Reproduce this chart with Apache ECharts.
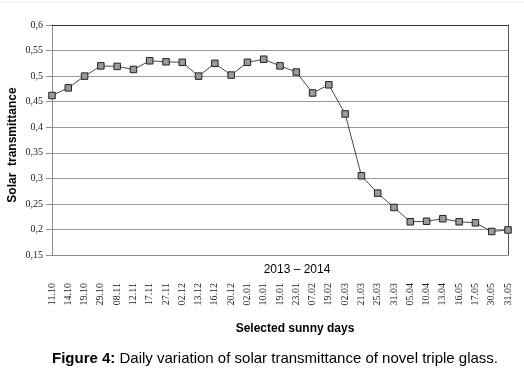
<!DOCTYPE html>
<html><head><meta charset="utf-8">
<script src="https://cdn.jsdelivr.net/npm/echarts@6/dist/echarts.min.js"></script>
<style>html,body{margin:0;padding:0;background:#fff}#c{width:524px;height:369px}</style>
</head><body><div id="c"></div>
<script>
const categories = ["11.10","14.10","19.10","29.10","08.11","12.11","17.11","27.11","02.12","13.12","16.12","20.12","02.01","10.01","19.01","23.01","07.02","19.02","02.03","21.03","25.03","31.03","05.04","10.04","13.04","16.05","17.05","30.05","31.05"];
const transmittance = [0.462,0.477,0.500,0.520,0.519,0.513,0.530,0.528,0.527,0.500,0.525,0.502,0.527,0.533,0.520,0.508,0.467,0.483,0.426,0.305,0.271,0.243,0.215,0.216,0.221,0.215,0.213,0.196,0.199];
const yMin = 0.15, yMax = 0.6, yStep = 0.05;
const periodLabel = "2013 \u2013 2014";
const xTitle = "Selected sunny days";
const yTitle = "Solar  transmittance";

const chart = echarts.init(document.getElementById('c'));
chart.setOption({
  animation: false,
  grid: {left: 52, right: 16, top: 25, bottom: 114, containLabel: false},
  xAxis: [{
    type: 'category', data: categories, boundaryGap: false,
    axisLine: {lineStyle: {color: '#8c8c8c', width: 1}},
    axisTick: {show: false},
    axisLabel: {rotate: 90, margin: 28, fontFamily: 'Liberation Serif', fontSize: 10, color: '#222', interval: 0}
  },{
    type: 'category', data: categories, boundaryGap: false, position: 'top',
    axisLine: {lineStyle: {color: '#333', width: 1}},
    axisTick: {show: false}, axisLabel: {show: false}
  }],
  yAxis: [{
    type: 'value', min: yMin, max: yMax, interval: yStep,
    axisLine: {show: true, lineStyle: {color: '#8c8c8c'}},
    axisTick: {show: true, length: 6, lineStyle: {color: '#8c8c8c'}},
    axisLabel: {margin: 9, fontFamily: 'Liberation Serif', fontSize: 10, color: '#222',
      formatter: v => String(Math.round(v*100)/100).replace('.', ',')},
    splitLine: {lineStyle: {color: '#9a9a9a', width: 1}}
  },{
    type: 'value', min: yMin, max: yMax, interval: yStep, position: 'right',
    axisLine: {show: true, lineStyle: {color: '#555'}},
    axisTick: {show: false}, axisLabel: {show: false}, splitLine: {show: false}
  }],
  title: [{
    text: periodLabel, left: 292, top: 259, textAlign: 'center',
    textStyle: {fontFamily: 'Liberation Sans', fontWeight: 'normal', fontSize: 12, color: '#000'}
  },{
    text: xTitle, left: 290, top: 318, textAlign: 'center',
    textStyle: {fontFamily: 'Liberation Sans', fontWeight: 'bold', fontSize: 12, color: '#000'}
  },{
    text: '{b|Figure 4:} Daily variation of solar transmittance of novel triple glass.',
    left: 270, top: 346, textAlign: 'center',
    textStyle: {fontFamily: 'Liberation Sans', fontWeight: 'normal', fontSize: 15, color: '#000',
      rich: {b: {fontFamily: 'Liberation Sans', fontWeight: 'bold', fontSize: 15, color: '#000'}}}
  }],
  graphic: [
    {type: 'line', shape: {x1: 0, y1: 2, x2: 524, y2: 2}, style: {stroke: '#eeeeee', lineWidth: 1}},
    {type: 'text', x: 13, y: 145, rotation: Math.PI/2,
     style: {text: yTitle, font: 'bold 12px "Liberation Sans"', fill: '#000', textAlign: 'center', textVerticalAlign: 'middle'}}
  ],
  series: [{
    type: 'line', data: transmittance, symbol: 'rect', symbolSize: 6.5,
    lineStyle: {color: '#1a1a1a', width: 0.8},
    itemStyle: {color: '#9a9a9a', borderColor: '#222', borderWidth: 1}
  }]
});
</script></body></html>
